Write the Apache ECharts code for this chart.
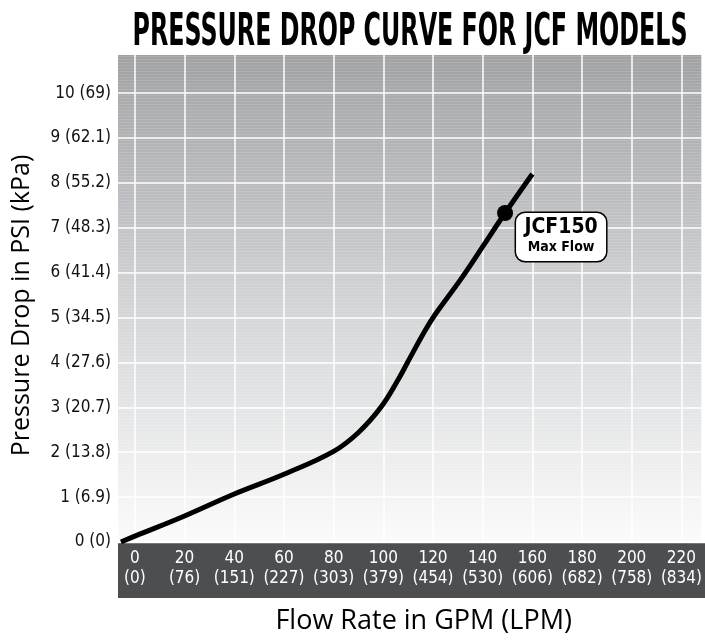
<!DOCTYPE html>
<html>
<head>
<meta charset="utf-8">
<script src="https://cdn.jsdelivr.net/npm/echarts@6/dist/echarts.min.js"></script>
<style>
html, body { margin: 0; padding: 0; background: #fff; }
#chart { width: 705px; height: 640px; }
</style>
</head>
<body>
<div id="chart"></div>
<script>
// curve (GPM -> PSI)
const flowGpm = [-5.6, 0, 20, 40, 60, 80, 90, 99, 106, 111, 117, 121, 131, 140, 149, 160];
const dropPsi = [0, 0.13, 0.58, 1.07, 1.51, 2.02, 2.44, 3.0, 3.62, 4.13, 4.73, 5.08, 5.84, 6.58, 7.33, 8.2];
const maxFlowPoint = [149, 7.33];
const maxFlowName = "JCF150";
const maxFlowNote = "Max Flow";

// tick labels
const xTicks = [0, 20, 40, 60, 80, 100, 120, 140, 160, 180, 200, 220];
const xTicksLpm = ["0", "76", "151", "227", "303", "379", "454", "530", "606", "682", "758", "834"];
const yTicks = [0, 1, 2, 3, 4, 5, 6, 7, 8, 9, 10];
const yTicksKpa = ["0", "6.9", "13.8", "20.7", "27.6", "34.5", "41.4", "48.3", "55.2", "62.1", "69"];

const titleText = "PRESSURE DROP CURVE FOR JCF MODELS";
const condensed = "'Liberation Sans Narrow', 'DejaVu Sans Condensed', sans-serif";

// squeeze the title to the width it has in the picture
function titleScale() {
  const ctx = document.createElement("canvas").getContext("2d");
  ctx.font = "bold 44px " + condensed;
  return 555 / ctx.measureText(titleText).width;
}

// striped grey gradient behind the plot
function plotBackground() {
  const c = document.createElement("canvas");
  c.width = 705;
  c.height = 640;
  const ctx = c.getContext("2d");
  const g = ctx.createLinearGradient(0, 55, 0, 543);
  g.addColorStop(0, "#a0a1a3");
  g.addColorStop(0.1, "#abacae");
  g.addColorStop(0.3, "#bdbec1");
  g.addColorStop(0.5, "#d2d3d5");
  g.addColorStop(0.75, "#e6e7e8");
  g.addColorStop(1, "#fbfbfb");
  ctx.fillStyle = g;
  ctx.fillRect(0, 0, 705, 640);
  ctx.fillStyle = "rgba(255,255,255,0.13)";
  for (let y = 56; y < 543; y += 3) {
    ctx.fillRect(0, y, 705, 1);
  }
  return c;
}

const chart = echarts.init(document.getElementById("chart"));

chart.setOption({
  animation: false,
  graphic: [
    {
      type: "text",
      x: 410,
      y: 12,
      scaleX: titleScale(),
      style: {
        text: titleText,
        fontFamily: condensed,
        fontWeight: "bold",
        fontSize: 44,
        fill: "#000",
        textAlign: "center",
        textVerticalAlign: "top",
      },
    },
    {
      type: "rect",
      left: 118,
      top: 543,
      z: 0,
      shape: { width: 587, height: 55 },
      style: { fill: "#4d4e50" },
    },
    {
      type: "rect",
      left: 118,
      top: 543,
      z: 0,
      shape: { width: 587, height: 1 },
      style: { fill: "#77787a" },
    },
  ],
  grid: {
    left: 118,
    right: 0,
    top: 55,
    bottom: 97,
    show: true,
    borderWidth: 0,
    backgroundColor: { image: plotBackground(), repeat: "no-repeat" },
  },
  xAxis: {
    type: "value",
    min: -6.8,
    max: 228,
    name: "Flow Rate in GPM (LPM)",
    nameLocation: "middle",
    nameGap: 66,
    nameTextStyle: {
      fontFamily: "'Open Sans', sans-serif",
      fontSize: 27,
      color: "#000",
      padding: [0, 0, 0, 28],
    },
    axisLine: { show: false },
    axisTick: { show: false, customValues: xTicks },
    axisLabel: {
      customValues: xTicks,
      margin: 7,
      color: "#fff",
      fontFamily: condensed,
      fontSize: 17,
      lineHeight: 20,
      formatter: (v) => {
        const i = xTicks.indexOf(v);
        return v + "\n(" + xTicksLpm[i] + ")";
      },
    },
    splitLine: { show: true, lineStyle: { color: "#fff", width: 1.5 } },
  },
  yAxis: {
    type: "value",
    min: 0,
    max: 10.85,
    name: "Pressure Drop in PSI (kPa)",
    nameLocation: "middle",
    nameRotate: 90,
    nameGap: 84,
    nameTextStyle: {
      fontFamily: "'Open Sans', sans-serif",
      fontSize: 25,
      color: "#000",
      padding: [0, 14, 0, 0],
    },
    axisLine: { show: false },
    axisTick: { show: false, customValues: yTicks },
    axisLabel: {
      customValues: yTicks,
      margin: 7,
      color: "#111",
      fontFamily: condensed,
      fontSize: 17,
      formatter: (v) => v + " (" + yTicksKpa[yTicks.indexOf(v)] + ")",
    },
    splitLine: { show: true, lineStyle: { color: "#fff", width: 1.5 } },
  },
  series: [
    {
      type: "line",
      data: flowGpm.map((x, i) => [x, dropPsi[i]]),
      smooth: 0.4,
      showSymbol: false,
      lineStyle: { color: "#000", width: 5 },
      z: 3,
    },
    {
      type: "scatter",
      data: [maxFlowPoint],
      symbolSize: 16,
      itemStyle: { color: "#000", opacity: 1 },
      z: 4,
      label: {
        show: true,
        position: [64, 8],
        align: "center",
        verticalAlign: "top",
        width: 90,
        height: 40,
        padding: [4, 0, 4, 0],
        backgroundColor: "#fff",
        borderColor: "#000",
        borderWidth: 1.5,
        borderRadius: 9,
        opacity: 1,
        formatter: "{a|" + maxFlowName + "}\n{b|" + maxFlowNote + "}",
        rich: {
          a: {
            fontFamily: condensed,
            fontWeight: "bold",
            fontSize: 21,
            lineHeight: 22,
            color: "#000",
            align: "center",
          },
          b: {
            fontFamily: condensed,
            fontWeight: "bold",
            fontSize: 14,
            lineHeight: 16,
            color: "#000",
            align: "center",
          },
        },
      },
    },
  ],
});
</script>
</body>
</html>
